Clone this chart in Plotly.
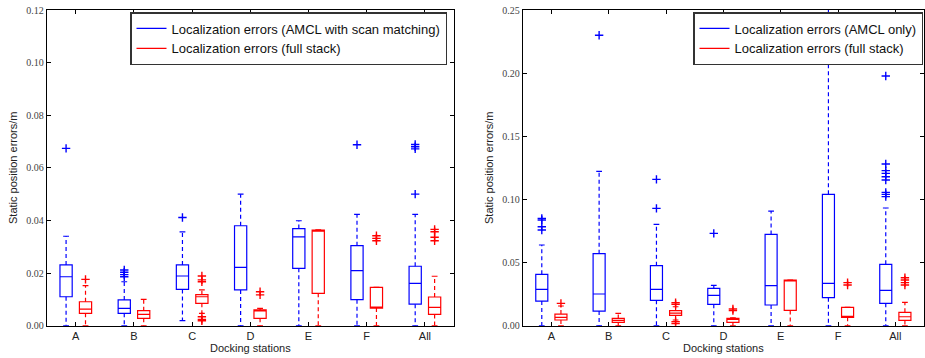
import plotly.graph_objects as go

stations = ["A", "B", "C", "D", "E", "F", "All"]

# Left panel: AMCL with scan matching (blue)
sm_q1 = [0.0110, 0.0047, 0.0138, 0.0136, 0.0218, 0.0099, 0.0082]
sm_med = [0.0186, 0.0066, 0.0189, 0.0222, 0.0338, 0.0209, 0.0161]
sm_q3 = [0.0231, 0.0098, 0.0231, 0.0380, 0.0369, 0.0304, 0.0226]
sm_lo = [0.0, 0.0, 0.0019, 0.0, 0.0, 0.0, 0.0]
sm_hi = [0.0340, 0.0167, 0.0357, 0.0500, 0.0399, 0.0423, 0.0423]
sm_out = [[0.0674], [0.0212, 0.0203, 0.0194, 0.0186], [0.0411], [], [], [0.0688],
          [0.0689, 0.0680, 0.0672, 0.0500]]

# Left panel: full stack (red)
fl_q1 = [0.0047, 0.0028, 0.0085, 0.0028, 0.0123, 0.0067, 0.0043]
fl_med = [0.0063, 0.0043, 0.0110, 0.0058, 0.0362, 0.0067, 0.0070]
fl_q3 = [0.0091, 0.0057, 0.0118, 0.0060, 0.0363, 0.0146, 0.0109]
fl_lo = [0.0, 0.0, 0.0047, 0.0, 0.0, 0.0, 0.0]
fl_hi = [0.0152, 0.0100, 0.0136, 0.0066, 0.0364, 0.0146, 0.0188]
fl_out = [[0.0176], [], [0.0189, 0.0174, 0.0167, 0.0034, 0.0024, 0.0019], [0.0129, 0.0117], [],
          [0.0342, 0.0332, 0.0323], [0.0366, 0.0357, 0.0336, 0.0323]]

# Right panel: AMCL only (blue)
am_q1 = [0.0195, 0.0116, 0.0201, 0.0169, 0.0164, 0.0222, 0.0177]
am_med = [0.0288, 0.0251, 0.0288, 0.0240, 0.0317, 0.0335, 0.0280]
am_q3 = [0.0407, 0.0570, 0.0475, 0.0296, 0.0723, 0.1040, 0.0486]
am_lo = [0.0, 0.0, 0.0, 0.0, 0.0, 0.0, 0.0]
am_hi = [0.0639, 0.1222, 0.0803, 0.0319, 0.0908, 0.2600, 0.0932]
am_out = [[0.0850, 0.0837, 0.0784, 0.0758], [0.230], [0.1159, 0.0929], [0.0731], [], [],
          [0.1977, 0.1280, 0.1228, 0.1206, 0.1180, 0.1154, 0.1056, 0.1040, 0.1022]]

# Right panel: full stack (red)
fr_q1 = [0.0045, 0.0026, 0.0082, 0.0026, 0.0121, 0.0066, 0.0042]
fr_med = [0.0066, 0.0042, 0.0100, 0.0050, 0.0362, 0.0066, 0.0071]
fr_q3 = [0.0092, 0.0058, 0.0119, 0.0058, 0.0362, 0.0145, 0.0106]
fr_lo = [0.0, 0.0, 0.0045, 0.0, 0.0, 0.0, 0.0]
fr_hi = [0.0156, 0.0098, 0.0150, 0.0063, 0.0362, 0.0145, 0.0185]
fr_out = [[0.0177], [], [0.0182, 0.0169, 0.0032, 0.0018], [0.0132, 0.0119], [],
          [0.0341, 0.0322], [0.0380, 0.0362, 0.0341, 0.0322]]

BLUE = "#0000ff"
RED = "#ff0000"
OFFSET = 0.167
BOXW = 0.21
CAPW = 0.05
LW = 1.2

fig = go.Figure()


def add_series(name, color, q1, med, q3, lo, hi, out, offset, xa, ya, legend):
    pos = [i + 1 + offset for i in range(len(stations))]
    fig.add_trace(go.Box(
        x=pos, q1=q1, median=med, q3=q3, lowerfence=q1, upperfence=q3,
        width=BOXW, whiskerwidth=0, boxpoints=False,
        line=dict(color=color, width=LW), fillcolor="rgba(0,0,0,0)",
        xaxis=xa, yaxis=ya, showlegend=False, hoverinfo="skip"))
    wx, wy = [], []
    for p, a, b, c, d in zip(pos, q3, hi, q1, lo):
        wx += [p, p, None, p, p, None]
        wy += [a, b, None, c, d, None]
    fig.add_trace(go.Scatter(
        x=wx, y=wy, mode="lines", line=dict(color=color, width=LW, dash="4px,3px"),
        xaxis=xa, yaxis=ya, showlegend=False, hoverinfo="skip"))
    cx, cy = [], []
    for p, b, d in zip(pos, hi, lo):
        cx += [p - CAPW, p + CAPW, None, p - CAPW, p + CAPW, None]
        cy += [b, b, None, d, d, None]
    fig.add_trace(go.Scatter(
        x=cx, y=cy, mode="lines", line=dict(color=color, width=LW),
        xaxis=xa, yaxis=ya, name=name, showlegend=True, legend=legend, hoverinfo="skip"))
    ox, oy = [], []
    for p, vals in zip(pos, out):
        for v in vals:
            ox.append(p)
            oy.append(v)
    fig.add_trace(go.Scatter(
        x=ox, y=oy, mode="markers",
        marker=dict(symbol="cross-thin", size=6, line=dict(color=color, width=1.4), color=color),
        xaxis=xa, yaxis=ya, showlegend=False, hoverinfo="skip"))


add_series("Localization errors (AMCL with scan matching)", BLUE, sm_q1, sm_med, sm_q3, sm_lo, sm_hi, sm_out,
           -OFFSET, "x", "y", "legend")
add_series("Localization errors (full stack)", RED, fl_q1, fl_med, fl_q3, fl_lo, fl_hi, fl_out,
           OFFSET, "x", "y", "legend")
add_series("Localization errors (AMCL only)", BLUE, am_q1, am_med, am_q3, am_lo, am_hi, am_out,
           -OFFSET, "x2", "y2", "legend2")
add_series("Localization errors (full stack)", RED, fr_q1, fr_med, fr_q3, fr_lo, fr_hi, fr_out,
           OFFSET, "x2", "y2", "legend2")

W, H = 925, 358
ydom = [1 - 325.7 / H, 1 - 10 / H]
xdom1 = [46.7 / W, 454 / W]
xdom2 = [522.7 / W, 924 / W]

tickvals = [i + 1 for i in range(len(stations))]
xcommon = dict(range=[0.5, 7.5], tickmode="array", tickvals=tickvals, ticktext=stations,
               ticks="inside", ticklen=4, tickcolor="black", showline=True, linecolor="black",
               linewidth=1, mirror="ticks", showgrid=False, zeroline=False, automargin=False,
               tickfont=dict(family="Liberation Sans, Arial", size=11, color="#222"))
ycommon = dict(ticks="inside", ticklen=4, tickcolor="black", showline=True, linecolor="black",
               linewidth=1, mirror="ticks", showgrid=False, zeroline=False, automargin=False,
               tickformat=".2f",
               tickfont=dict(family="Liberation Serif, Times New Roman, serif", size=10, color="#444"))

legcommon = dict(bgcolor="white", bordercolor="#333", borderwidth=1.5,
                 font=dict(family="Liberation Sans, Arial", size=13, color="#111"),
                 xanchor="right", yanchor="top", itemwidth=30, tracegroupgap=0)

fig.update_layout(
    width=W, height=H, margin=dict(l=0, r=0, t=0, b=0),
    paper_bgcolor="white", plot_bgcolor="white", boxmode="overlay",
    xaxis=dict(domain=xdom1, anchor="y", **xcommon),
    yaxis=dict(domain=ydom, anchor="x", range=[0, 0.12], dtick=0.02, **ycommon),
    xaxis2=dict(domain=xdom2, anchor="y2", **xcommon),
    yaxis2=dict(domain=ydom, anchor="x2", range=[0, 0.25], dtick=0.05, **ycommon),
    legend=dict(x=447 / W, y=1 - 12 / H, **legcommon),
    legend2=dict(x=923 / W, y=1 - 12 / H, **legcommon),
)

tfont = dict(family="Liberation Sans, Arial", size=11, color="#222")
fig.add_annotation(text="Docking stations", xref="paper", yref="paper",
                   x=(xdom1[0] + xdom1[1]) / 2, y=1 - 348 / H, xanchor="center", yanchor="middle",
                   showarrow=False, font=tfont)
fig.add_annotation(text="Docking stations", xref="paper", yref="paper",
                   x=(xdom2[0] + xdom2[1]) / 2, y=1 - 348 / H, xanchor="center", yanchor="middle",
                   showarrow=False, font=tfont)
fig.add_annotation(text="Static position errors/m", xref="paper", yref="paper",
                   x=13 / W, y=1 - 168 / H, xanchor="center", yanchor="middle", textangle=-90,
                   showarrow=False, font=tfont)
fig.add_annotation(text="Static position errors/m", xref="paper", yref="paper",
                   x=489 / W, y=1 - 168 / H, xanchor="center", yanchor="middle", textangle=-90,
                   showarrow=False, font=tfont)

fig.write_html("out.html", config={"displayModeBar": False},
               post_script="document.body.style.margin='0';document.body.style.overflow='hidden';")
